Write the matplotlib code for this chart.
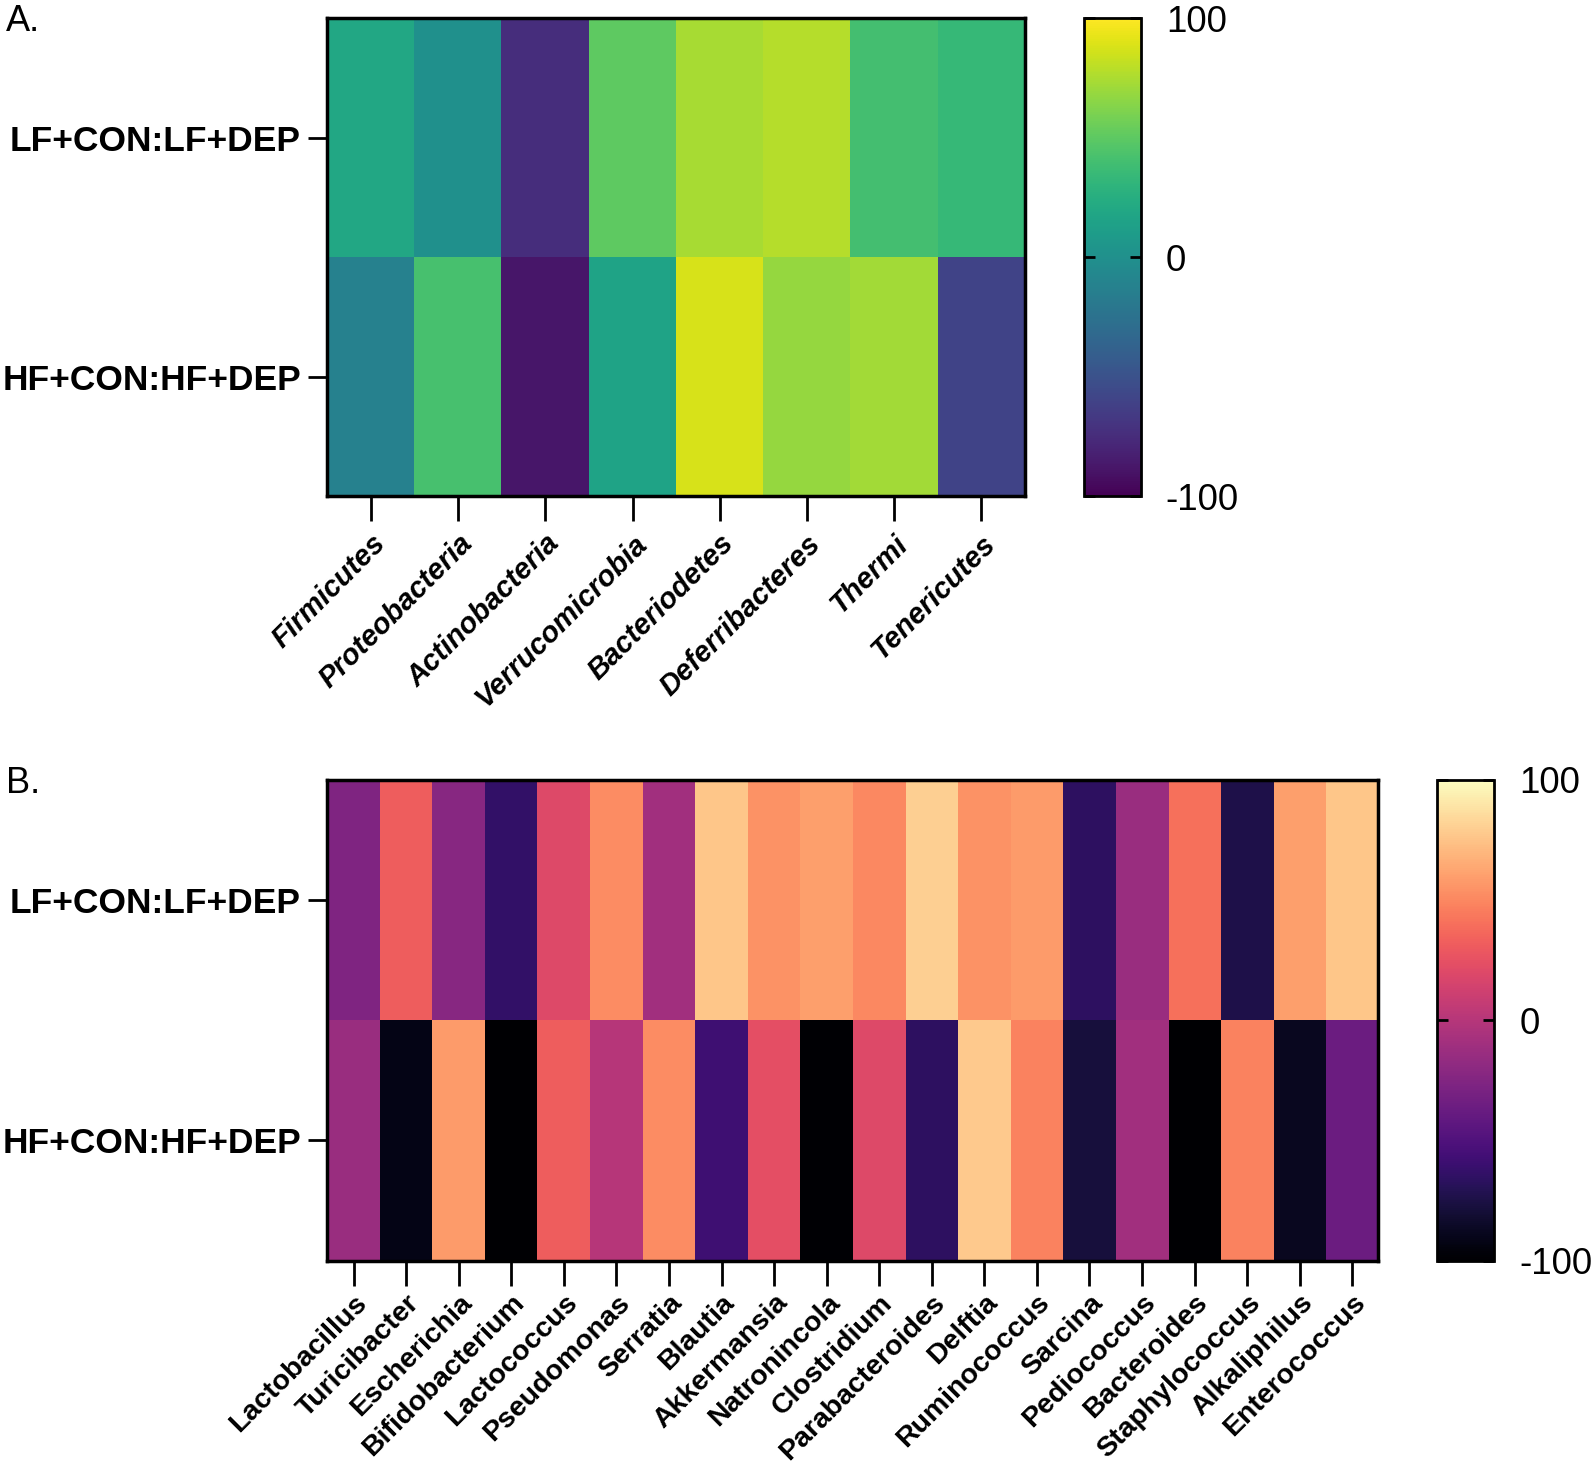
import numpy as np
import matplotlib
matplotlib.use("Agg")
import matplotlib.pyplot as plt

plt.rcParams['font.family'] = ['Liberation Sans', 'DejaVu Sans']

rows = ["LF+CON:LF+DEP", "HF+CON:HF+DEP"]

# panel A: phylum level
phyla = ["Firmicutes", "Proteobacteria", "Actinobacteria", "Verrucomicrobia",
         "Bacteriodetes", "Deferribacteres", "Thermi", "Tenericutes"]
phyla_lf = [20, 0, -74, 50, 74, 78, 40, 34]
phyla_hf = [-12, 42, -88, 16, 88, 68, 72, -60]

# panel B: genus level
genera = ["Lactobacillus", "Turicibacter", "Escherichia", "Bifidobacterium",
          "Lactococcus", "Pseudomonas", "Serratia", "Blautia", "Akkermansia",
          "Natronincola", "Clostridium", "Parabacteroides", "Delftia",
          "Ruminococcus", "Sarcina", "Pediococcus", "Bacteroides",
          "Staphylococcus", "Alkaliphilus", "Enterococcus"]
genera_lf = [-26, 32, -22, -64, 20, 52, -10, 76, 54, 60,
             50, 80, 54, 58, -66, -14, 40, -74, 60, 76]
genera_hf = [-14, -92, 58, -100, 32, 0, 52, -58, 24, -99,
             20, -66, 78, 48, -78, -10, -100, 48, -88, -36]

cbar_ticks = [-100, 0, 100]

fig = plt.figure(figsize=(15.94, 14.70), dpi=100)


def panel(ax_rect, cax_rect, data, xlabels, cmap, italic, xsize, xpad):
    ax = fig.add_axes(ax_rect)
    im = ax.imshow(np.array(data), cmap=cmap, vmin=-100, vmax=100,
                   aspect='auto', interpolation='nearest')
    ax.set_yticks(range(len(rows)))
    ax.set_yticklabels(rows, fontsize=25.5, fontweight='bold')
    ax.set_xticks(range(len(xlabels)))
    ax.set_xticklabels(xlabels, fontsize=xsize, fontweight='bold',
                       style='italic' if italic else 'normal',
                       rotation=45, ha='right', rotation_mode='anchor')
    ax.tick_params(axis='x', length=18, width=2, pad=xpad)
    ax.tick_params(axis='y', length=14, width=2, pad=5)
    for s in ax.spines.values():
        s.set_linewidth(2.5)

    cax = fig.add_axes(cax_rect)
    cb = fig.colorbar(im, cax=cax, ticks=cbar_ticks)
    cb.outline.set_linewidth(2)
    cax.tick_params(direction='in', length=8, width=2, left=True, right=True,
                    labelsize=26.5, pad=18)
    cax.set_yticklabels([str(t) for t in cbar_ticks])
    return ax


panel([0.2054, 0.6625, 0.4375, 0.325], [0.680, 0.6625, 0.0357, 0.325],
      [phyla_lf, phyla_hf], phyla, 'viridis', True, 21, 6)
panel([0.2054, 0.1425, 0.6594, 0.3271], [0.9018, 0.1425, 0.0357, 0.3271],
      [genera_lf, genera_hf], genera, 'magma', False, 20.5, 3)

fig.text(0.004, 0.997, "A.", fontsize=26, va='top', ha='left')
fig.text(0.004, 0.479, "B.", fontsize=26, va='top', ha='left')

fig.savefig("out.png", dpi=100)
plt.close(fig)
